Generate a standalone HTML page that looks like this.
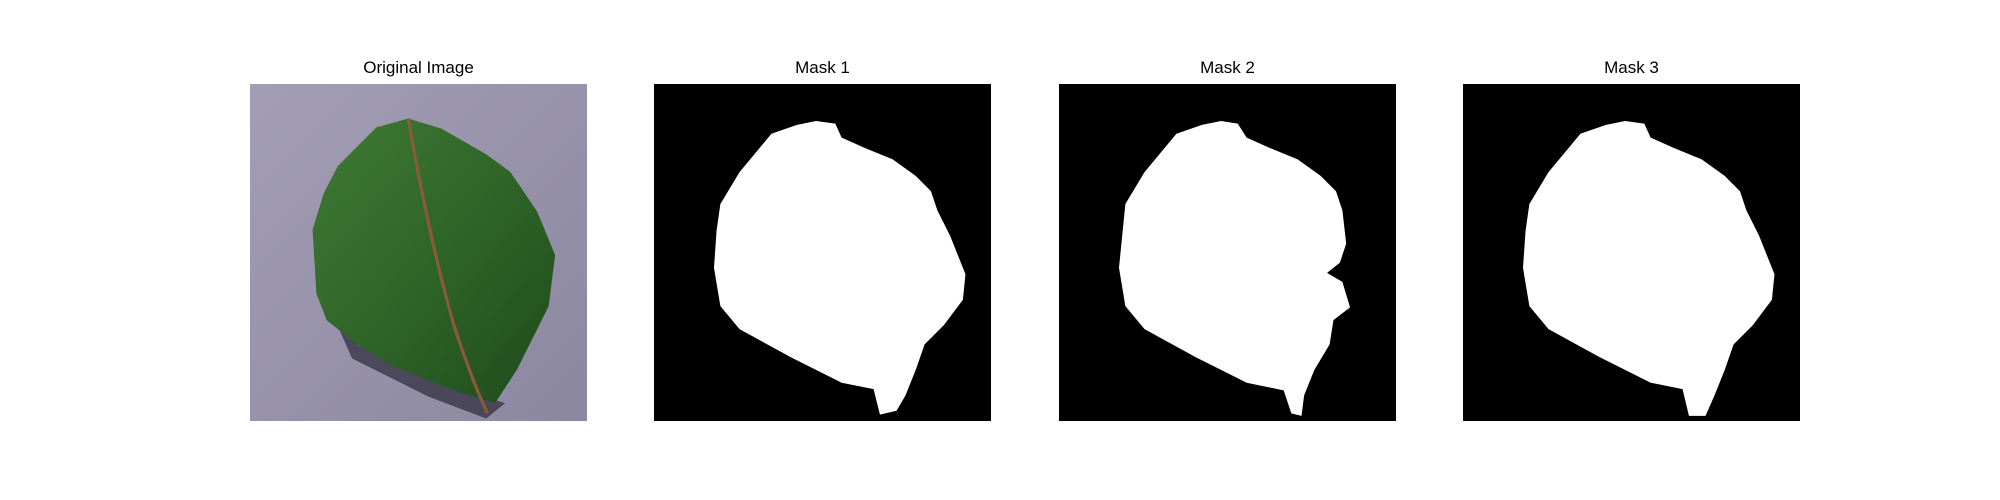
<!DOCTYPE html>
<html><head><meta charset="utf-8"><style>
html,body{margin:0;padding:0;background:#fff;}
body{width:2000px;height:500px;position:relative;overflow:hidden;font-family:"Liberation Sans","DejaVu Sans",sans-serif;}
.panel{position:absolute;top:84px;width:337px;height:337px;}
.title{position:absolute;top:58px;width:337px;text-align:center;font-size:17px;color:#000;}
svg{display:block;}
</style></head><body>
<div class="title" style="left:250px">Original Image</div>
<div class="title" style="left:654px">Mask 1</div>
<div class="title" style="left:1059px">Mask 2</div>
<div class="title" style="left:1463px">Mask 3</div>

<div class="panel" style="left:250px">
<svg width="337" height="337" viewBox="0 0 264 264" preserveAspectRatio="none">
<defs><linearGradient id="bg" x1="0" y1="0" x2="1" y2="1"><stop offset="0" stop-color="#a39eb6"/><stop offset="1" stop-color="#8c87a0"/></linearGradient>
<linearGradient id="lf" x1="0" y1="0" x2="1" y2="1"><stop offset="0" stop-color="#3f7a34"/><stop offset="0.5" stop-color="#2f6528"/><stop offset="1" stop-color="#1f4a1c"/></linearGradient></defs>
<rect width="264" height="264" fill="url(#bg)"/>
<path d="M60,170 L80,215 L140,245 L185,262 L200,250 L150,235 L85,205 Z" fill="#3a3648" opacity="0.8"/>
<path d="M124,27 L150,35 L185,55 L204,69 L225,100 L239,134 L234,174 L209,224 L192,250 L160,240 L144,234 L110,220 L84,204 L60,185 L52,164 L49,114 L58,85 L69,64 L99,34 Z" fill="url(#lf)"/>
<path d="M124,27 Q140,120 160,190 Q175,235 186,258" stroke="#8a5a3a" stroke-width="2.5" fill="none"/>
</svg></div>

<div class="panel" style="left:654px">
<svg width="337" height="337" viewBox="0 0 264 264" preserveAspectRatio="none">
<rect width="264" height="264" fill="#000"/>
<path d="M112,32 L127,29 L142,31 L147,42 L165,50 L187,59 L205,72 L217,84 L222,99 L232,119 L244,149 L242,169 L227,189 L212,204 L205,224 L197,244 L190,256 L177,259 L172,239 L147,234 L107,214 L67,192 L52,174 L47,144 L49,115 L52,94 L67,69 L92,39 Z" fill="#fff"/>
</svg></div>

<div class="panel" style="left:1059px">
<svg width="337" height="337" viewBox="0 0 264 264" preserveAspectRatio="none">
<rect width="264" height="264" fill="#000"/>
<path d="M112,32 L127,29 L140,31 L147,42 L165,50 L187,59 L205,72 L217,84 L222,99 L225,125 L220,140 L210,148 L222,155 L228,175 L215,185 L212,204 L200,224 L192,244 L190,260 L182,258 L176,240 L147,234 L107,214 L67,192 L52,174 L47,144 L52,94 L67,69 L92,39 Z" fill="#fff"/>
</svg></div>

<div class="panel" style="left:1463px">
<svg width="337" height="337" viewBox="0 0 264 264" preserveAspectRatio="none">
<rect width="264" height="264" fill="#000"/>
<path d="M112,32 L127,29 L142,31 L147,42 L165,50 L187,59 L205,72 L217,84 L222,99 L232,119 L244,149 L242,169 L227,189 L212,204 L205,224 L197,244 L190,260 L177,260 L172,239 L147,234 L107,214 L67,192 L52,174 L47,144 L49,115 L52,94 L67,69 L92,39 Z" fill="#fff"/>
</svg></div>
</body></html>
